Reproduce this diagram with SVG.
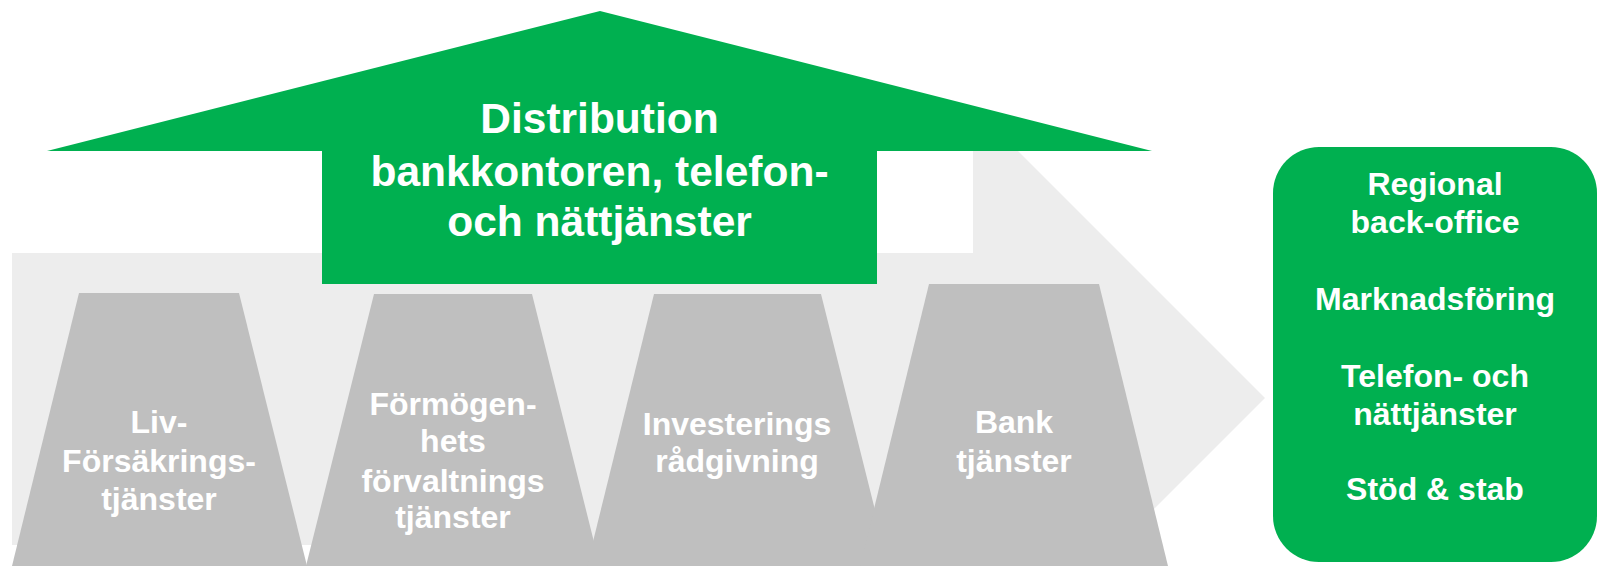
<svg xmlns="http://www.w3.org/2000/svg" width="1599" height="566" viewBox="0 0 1599 566">
<style>
.bg{fill:#ededed}
.green{fill:#00b050}
.trap{fill:#bfbfbf}
.t{font-family:"Liberation Sans",Arial,sans-serif;font-weight:bold;fill:#ffffff;text-anchor:middle}
.tt{font-size:32px}
.td{font-size:42.5px}
.tr{font-size:32px}
</style>
<rect width="1599" height="566" fill="#ffffff"/>
<g id="backdrop-arrow">
<polygon class="bg" points="12,253 973,253 973,151 1018,151 1265,398 1118,545 12,545"/>
</g>
<g id="distribution">
<polygon class="green" points="47,151 600,11 1152,151"/>
<rect class="green" x="322" y="150" width="555" height="134"/>
<text class="t td" x="599.5"><tspan x="599.5" y="133">Distribution</tspan><tspan x="599.5" y="186">bankkontoren, telefon-</tspan><tspan x="599.5" y="236">och nättjänster</tspan></text>
</g>
<g id="liv">
<polygon class="trap" points="79,293 239,293 307,566 12,566"/>
<text class="t tt"><tspan x="159" y="433">Liv-</tspan><tspan x="159" y="472">Försäkrings-</tspan><tspan x="159" y="510">tjänster</tspan></text>
</g>
<g id="formogenhet">
<polygon class="trap" points="374,294 532,294 600,566 306,566"/>
<text class="t tt"><tspan x="453" y="415">Förmögen-</tspan><tspan x="453" y="452">hets</tspan><tspan x="453" y="492">förvaltnings</tspan><tspan x="453" y="528">tjänster</tspan></text>
</g>
<g id="investering">
<polygon class="trap" points="654,294 821,294 889,566 587,566"/>
<text class="t tt"><tspan x="737" y="435">Investerings</tspan><tspan x="737" y="472">rådgivning</tspan></text>
</g>
<g id="bank">
<polygon class="trap" points="929,284 1099,284 1168,566 860,566"/>
<text class="t tt"><tspan x="1014" y="433">Bank</tspan><tspan x="1014" y="472">tjänster</tspan></text>
</g>
<g id="support">
<rect class="green" x="1273" y="147" width="324" height="415" rx="46" ry="46"/>
<text class="t tr"><tspan x="1435" y="195">Regional</tspan><tspan x="1435" y="233">back-office</tspan><tspan x="1435" y="310">Marknadsföring</tspan><tspan x="1435" y="387">Telefon- och</tspan><tspan x="1435" y="425">nättjänster</tspan><tspan x="1435" y="500">Stöd &amp; stab</tspan></text>
</g>
<g id="connectors"></g>
</svg>
